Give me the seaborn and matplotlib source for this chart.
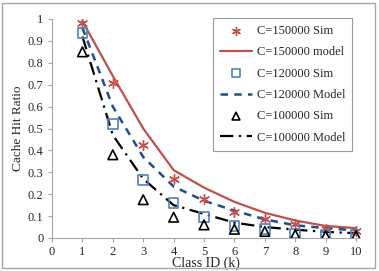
import numpy as np
import pandas as pd
import matplotlib
matplotlib.use("Agg")
import matplotlib.pyplot as plt
import seaborn as sns
from matplotlib.patches import Rectangle

k = [1, 2, 3, 4, 5, 6, 7, 8, 9, 10]

sim_150 = [0.98, 0.71, 0.425, 0.27, 0.18, 0.12, 0.087, 0.065, 0.04, 0.03]
model_150 = [0.99, 0.74, 0.50, 0.31, 0.23, 0.165, 0.115, 0.08, 0.055, 0.045]
sim_120 = [0.935, 0.52, 0.265, 0.16, 0.095, 0.055, 0.04, 0.02, 0.015, 0.015]
model_120 = [0.96, 0.60, 0.37, 0.235, 0.17, 0.125, 0.085, 0.058, 0.045, 0.035]
sim_100 = [0.85, 0.38, 0.175, 0.095, 0.06, 0.04, 0.03, 0.015, 0.01, 0.01]
model_100 = [0.92, 0.47, 0.27, 0.15, 0.11, 0.07, 0.05, 0.038, 0.028, 0.022]

red = "#c0504d"
blue = "#4f81bd"
dblue = "#1f4e8c"

sns.set_style("white")
plt.rcParams["font.family"] = ["Liberation Serif", "DejaVu Serif"]

fig = plt.figure(figsize=(3.79, 2.71), dpi=100)
ax = fig.add_axes([52 / 379, 1 - 238 / 271, (360 - 52) / 379, (238 - 19) / 271])

# border round the whole chart
fig.patches.append(Rectangle((2 / 379, 3 / 271), 373 / 379, 265 / 271, transform=fig.transFigure,
                             fill=False, edgecolor="#a6a6a6", linewidth=1.0))

df = pd.DataFrame({"k": k, "s150": sim_150, "m150": model_150, "s120": sim_120,
                   "m120": model_120, "s100": sim_100, "m100": model_100})

star = (6, 2, 0)
sns.scatterplot(data=df, x="k", y="s150", ax=ax, marker=star, s=50, color=red,
                linewidth=1.0, label="C=150000 Sim", zorder=3)
sns.lineplot(data=df, x="k", y="m150", ax=ax, color=red, linewidth=1.6,
             label="C=150000 model")
sns.scatterplot(data=df, x="k", y="s120", ax=ax, marker="s", s=48, facecolor="none",
                edgecolor=blue, linewidth=1.2, label="C=120000 Sim", zorder=3)
sns.lineplot(data=df, x="k", y="m120", ax=ax, color=dblue, linewidth=1.8,
             linestyle=(0, (3, 2.5)), label="C=120000 Model")
sns.scatterplot(data=df, x="k", y="s100", ax=ax, marker="^", s=48, facecolor="none",
                edgecolor="black", linewidth=1.2, label="C=100000 Sim", zorder=3)
sns.lineplot(data=df, x="k", y="m100", ax=ax, color="black", linewidth=1.6,
             linestyle=(0, (6, 2.5, 1, 2.5)), label="C=100000 Model")

ax.set_xlim(0, 10.13)
ax.set_ylim(0, 1)
ax.set_xticks(range(0, 11))
ax.set_yticks(np.arange(0, 1.01, 0.1))
ax.set_yticklabels(["0", "0.1", "0.2", "0.3", "0.4", "0.5", "0.6", "0.7", "0.8", "0.9", "1"])
ax.tick_params(axis="both", labelsize=9, length=3, width=0.8, color="#a6a6a6",
               direction="out", pad=3, left=True, bottom=True)
for side in ["top", "right"]:
    ax.spines[side].set_visible(False)
for side in ["left", "bottom"]:
    ax.spines[side].set_color("#a6a6a6")
    ax.spines[side].set_linewidth(0.8)

ax.set_xlabel("Class ID (k)", fontsize=10, labelpad=-1)
ax.set_ylabel("Cache Hit Ratio", fontsize=9.5, labelpad=3)

leg = ax.legend(loc="upper right", bbox_to_anchor=(352 / 379, 1 - 18 / 271),
                bbox_transform=fig.transFigure, fontsize=9, frameon=True,
                fancybox=False, edgecolor="#808080", handlelength=2.6, markerscale=0.8,
                labelspacing=0.75, borderpad=0.55, handletextpad=0.35, borderaxespad=0)
leg.get_frame().set_linewidth(0.8)

fig.savefig("out.png", dpi=100)
